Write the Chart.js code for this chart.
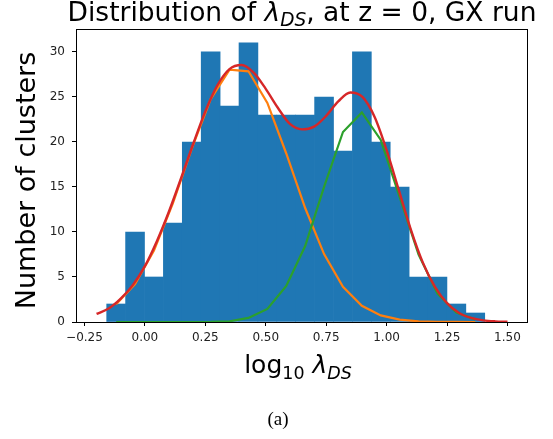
<!DOCTYPE html>
<html>
<head>
<meta charset="utf-8">
<script src="https://cdn.jsdelivr.net/npm/chart.js@4.4.1/dist/chart.umd.min.js"></script>
<style>
html, body { margin: 0; padding: 0; background: #fff; }
#wrap { width: 553px; height: 439px; }
</style>
</head>
<body>
<div id="wrap"><canvas id="histChart" width="553" height="439"></canvas></div>
<script>
// histogram: 20 bins of log10 lambda_DS
const binEdges = [-0.158, -0.0798, -0.0016, 0.0766, 0.1548, 0.233, 0.3112, 0.3894, 0.4676, 0.5458, 0.624,
                  0.7022, 0.7804, 0.8586, 0.9368, 1.015, 1.0932, 1.1714, 1.2496, 1.3278, 1.406];
const binCounts = [2, 10, 5, 11, 20, 30, 24, 31, 23, 23, 23, 25, 19, 30, 20, 15, 5, 5, 2, 1];

// the two gaussian components, sampled at the bin centres
const lowComponent = [1.96, 4.21, 7.94, 13.19, 19.27, 24.77, 28.04, 27.85, 24.34, 18.72,
                      12.66, 7.54, 3.91, 1.80, 0.73, 0.26, 0.08, 0.02, 0.005, 0.001];
const highComponent = [0, 0, 0, 0, 0, 0.01, 0.08, 0.45, 1.45, 4.0,
                       8.44, 15.01, 21.11, 23.28, 20.23, 13.87, 7.49, 3.15, 1.05, 0.28];

// total fit on a finer grid
const fitX = [-0.20, -0.15, -0.10, -0.05, 0.00, 0.05, 0.10, 0.15, 0.20, 0.25, 0.30, 0.35,
              0.40, 0.45, 0.50, 0.55, 0.60, 0.65, 0.70, 0.75, 0.80, 0.85, 0.90, 0.95,
              1.00, 1.05, 1.10, 1.15, 1.20, 1.25, 1.30, 1.35, 1.40, 1.45, 1.50];
const fitTotal = [0.9, 1.5, 2.6, 4.1, 6.2, 9.0, 12.3, 16.0, 19.8, 23.4, 26.3, 28.1,
                  28.55, 27.7, 25.9, 23.8, 22.0, 21.4, 21.7, 22.9, 24.5, 25.5, 25.0, 22.8,
                  19.1, 14.7, 10.3, 6.6, 3.9, 2.1, 1.0, 0.45, 0.18, 0.07, 0.03];

const xTicks = [-0.25, 0, 0.25, 0.5, 0.75, 1.0, 1.25, 1.5];
const yTicks = [0, 5, 10, 15, 20, 25, 30];

const binCenters = binCounts.map((c, i) => (binEdges[i] + binEdges[i + 1]) / 2);

function drawRich(ctx, parts, x, y, size) {
    let total = 0;
    const segs = parts.map(p => {
        const s = p.sub ? size * 0.7 : size;
        const font = (p.it ? 'italic ' : '') + s + 'px "DejaVu Sans"';
        ctx.font = font;
        const w = ctx.measureText(p.t).width;
        total += w;
        return { t: p.t, font: font, w: w, dy: p.sub ? size * 0.22 : 0 };
    });
    let cx = x - total / 2;
    segs.forEach(s => {
        ctx.font = s.font;
        ctx.fillText(s.t, cx, y + s.dy);
        cx += s.w;
    });
}

const frameAndText = {
    id: 'frameAndText',
    afterDraw(chart) {
        const ctx = chart.ctx;
        const a = chart.chartArea;
        ctx.save();
        ctx.strokeStyle = '#000';
        ctx.lineWidth = 1;
        ctx.strokeRect(Math.round(a.left) + 0.5, Math.round(a.top) + 0.5,
                       Math.round(a.right - a.left) - 1, Math.round(a.bottom - a.top));
        ctx.fillStyle = '#000';
        ctx.textAlign = 'left';
        ctx.textBaseline = 'alphabetic';
        const mid = (a.left + a.right) / 2;
        drawRich(ctx, [{ t: 'Distribution of ' }, { t: 'λ', it: true }, { t: 'DS', it: true, sub: true },
                       { t: ', at z = 0, GX run' }], mid, 20.5, 26.5);
        drawRich(ctx, [{ t: 'log' }, { t: '10', sub: true }, { t: ' ' }, { t: 'λ', it: true },
                       { t: 'DS', it: true, sub: true }], mid - 4, 373, 25);
        ctx.save();
        ctx.translate(35, 180.5);
        ctx.rotate(-Math.PI / 2);
        ctx.textAlign = 'center';
        ctx.font = '27px "DejaVu Sans"';
        ctx.fillText('Number of clusters', 0, 0);
        ctx.restore();
        ctx.textAlign = 'center';
        ctx.font = '19px "Liberation Serif"';
        ctx.fillText('(a)', 278, 425);
        ctx.restore();
    }
};

const ctx = document.getElementById('histChart').getContext('2d');
new Chart(ctx, {
    type: 'bar',
    data: {
        datasets: [
            {
                type: 'line',
                data: fitX.map((x, i) => ({ x: x, y: fitTotal[i] })),
                borderColor: '#d62728',
                borderWidth: 2.4,
                pointRadius: 0,
                cubicInterpolationMode: 'monotone',
                order: 1
            },
            {
                type: 'line',
                data: binCenters.map((x, i) => ({ x: x, y: highComponent[i] })),
                borderColor: '#2ca02c',
                borderWidth: 2.2,
                pointRadius: 0,
                tension: 0,
                order: 2
            },
            {
                type: 'line',
                data: binCenters.map((x, i) => ({ x: x, y: lowComponent[i] })),
                borderColor: '#ff7f0e',
                borderWidth: 2.2,
                pointRadius: 0,
                tension: 0,
                order: 3
            },
            {
                type: 'bar',
                data: binCenters.map((x, i) => ({ x: x, y: binCounts[i] })),
                backgroundColor: '#1f77b4',
                borderWidth: 0,
                barPercentage: 1.0,
                categoryPercentage: 1.0,
                order: 4
            }
        ]
    },
    options: {
        responsive: false,
        animation: false,
        layout: { padding: { top: 29, right: 25, left: 0, bottom: 0 } },
        plugins: { legend: { display: false }, tooltip: { enabled: false } },
        scales: {
            x: {
                type: 'linear',
                offset: false,
                min: -0.285,
                max: 1.585,
                afterBuildTicks: s => { s.ticks = xTicks.map(v => ({ value: v })); },
                afterFit: s => { s.height = 117; },
                ticks: {
                    autoSkip: false,
                    maxRotation: 0,
                    padding: 5,
                    color: '#222',
                    font: { family: 'DejaVu Sans', size: 12 },
                    callback: v => (v < 0 ? '\u2212' + Math.abs(v).toFixed(2) : v.toFixed(2))
                },
                grid: { offset: false, drawOnChartArea: false, drawTicks: true, tickLength: 4, color: '#000' },
                border: { display: false }
            },
            y: {
                min: 0,
                max: 32.55,
                afterBuildTicks: s => { s.ticks = yTicks.map(v => ({ value: v })); },
                afterFit: s => { s.width = 76; },
                ticks: {
                    padding: 7,
                    color: '#222',
                    font: { family: 'DejaVu Sans', size: 12 },
                    callback: v => String(v)
                },
                grid: { drawOnChartArea: false, drawTicks: true, tickLength: 4, color: '#000' },
                border: { display: false }
            }
        }
    },
    plugins: [frameAndText]
});
</script>
</body>
</html>
